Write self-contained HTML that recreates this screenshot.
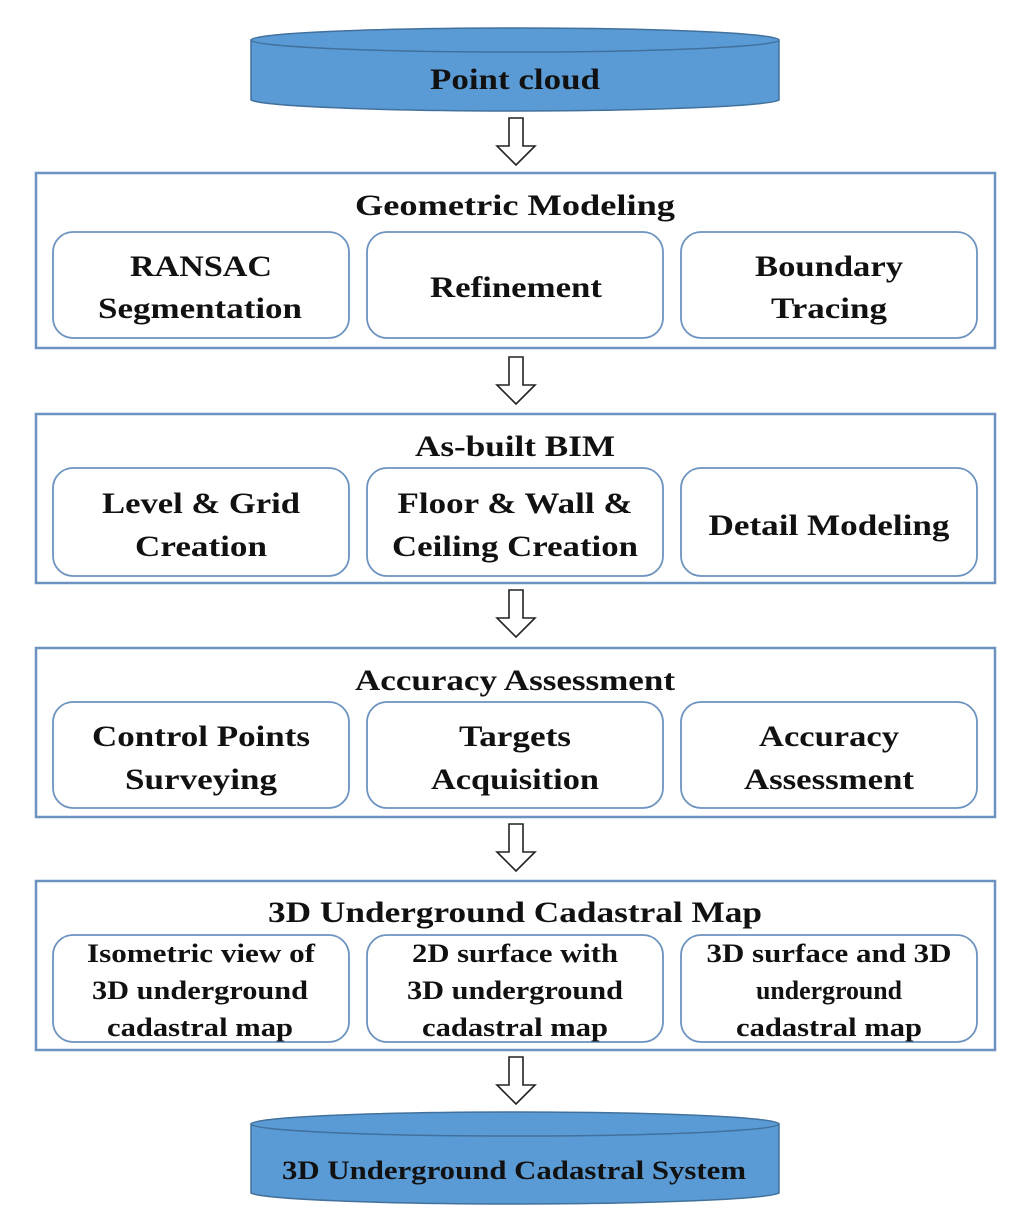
<!DOCTYPE html>
<html><head><meta charset="utf-8"><style>
html,body{margin:0;padding:0;background:#fff;}
svg{display:block;}
text{font-family:"Liberation Serif",serif;font-weight:bold;fill:#111;text-anchor:middle;}
</style></head><body>
<svg width="1024" height="1229" viewBox="0 0 1024 1229" xmlns="http://www.w3.org/2000/svg">
<defs>
<g id="arr"><path d="M-7,0 H7 V28 H19 L0,47 L-19,28 H-7 Z" fill="#fff" stroke="#222" stroke-width="1.6"/></g>
</defs>
<path d="M251,40 V100 A265,12 0 0 0 779,100 V40 Z" fill="#5b9bd5" stroke="#41719c" stroke-width="1.5"/>
<ellipse cx="515" cy="40" rx="264" ry="12" fill="#5b9bd5" stroke="#41719c" stroke-width="1.5"/>
<text x="515" y="89" font-size="30" textLength="170" lengthAdjust="spacingAndGlyphs">Point cloud</text>

<use href="#arr" x="516" y="118"/>
<use href="#arr" x="516" y="357"/>
<use href="#arr" x="516" y="590"/>
<use href="#arr" x="516" y="824"/>
<use href="#arr" x="516" y="1057"/>

<g fill="none" stroke="#6c93c0" stroke-width="2.5">
<rect x="36" y="173" width="959" height="175"/>
<rect x="36" y="414" width="959" height="169"/>
<rect x="36" y="648" width="959" height="169"/>
<rect x="36" y="881" width="959" height="169"/>
</g>
<g fill="#fff" stroke="#6c93c0" stroke-width="1.8">
<rect x="53" y="232" width="296" height="106" rx="20"/>
<rect x="367" y="232" width="296" height="106" rx="20"/>
<rect x="681" y="232" width="296" height="106" rx="20"/>
<rect x="53" y="468" width="296" height="108" rx="20"/>
<rect x="367" y="468" width="296" height="108" rx="20"/>
<rect x="681" y="468" width="296" height="108" rx="20"/>
<rect x="53" y="702" width="296" height="106" rx="20"/>
<rect x="367" y="702" width="296" height="106" rx="20"/>
<rect x="681" y="702" width="296" height="106" rx="20"/>
<rect x="53" y="935" width="296" height="107" rx="20"/>
<rect x="367" y="935" width="296" height="107" rx="20"/>
<rect x="681" y="935" width="296" height="107" rx="20"/>
</g>

<g font-size="30">
<text x="515" y="215" textLength="320" lengthAdjust="spacingAndGlyphs">Geometric  Modeling</text>
<text x="201" y="276" textLength="142" lengthAdjust="spacingAndGlyphs">RANSAC</text>
<text x="200" y="318" textLength="204" lengthAdjust="spacingAndGlyphs">Segmentation</text>
<text x="516" y="297" textLength="172" lengthAdjust="spacingAndGlyphs">Refinement</text>
<text x="829" y="276" textLength="148" lengthAdjust="spacingAndGlyphs">Boundary</text>
<text x="829" y="318" textLength="116" lengthAdjust="spacingAndGlyphs">Tracing</text>

<text x="515" y="456" textLength="200" lengthAdjust="spacingAndGlyphs">As-built BIM</text>
<text x="201" y="513" textLength="198" lengthAdjust="spacingAndGlyphs">Level &amp; Grid</text>
<text x="201" y="556" textLength="132" lengthAdjust="spacingAndGlyphs">Creation</text>
<text x="515" y="513" textLength="235" lengthAdjust="spacingAndGlyphs">Floor &amp; Wall &amp;</text>
<text x="515" y="556" textLength="246" lengthAdjust="spacingAndGlyphs">Ceiling Creation</text>
<text x="829" y="535" textLength="241" lengthAdjust="spacingAndGlyphs">Detail Modeling</text>

<text x="515" y="690" textLength="320" lengthAdjust="spacingAndGlyphs">Accuracy Assessment</text>
<text x="201" y="746" textLength="218" lengthAdjust="spacingAndGlyphs">Control Points</text>
<text x="201" y="789" textLength="152" lengthAdjust="spacingAndGlyphs">Surveying</text>
<text x="515" y="746" textLength="112" lengthAdjust="spacingAndGlyphs">Targets</text>
<text x="515" y="789" textLength="168" lengthAdjust="spacingAndGlyphs">Acquisition</text>
<text x="829" y="746" textLength="140" lengthAdjust="spacingAndGlyphs">Accuracy</text>
<text x="829" y="789" textLength="170" lengthAdjust="spacingAndGlyphs">Assessment</text>

<text x="515" y="922" textLength="494" lengthAdjust="spacingAndGlyphs">3D Underground Cadastral Map</text>
</g>
<g font-size="26">
<text x="201" y="962" textLength="228" lengthAdjust="spacingAndGlyphs">Isometric view of</text>
<text x="200" y="999" textLength="216" lengthAdjust="spacingAndGlyphs">3D underground</text>
<text x="200" y="1036" textLength="186" lengthAdjust="spacingAndGlyphs">cadastral map</text>
<text x="515" y="962" textLength="206" lengthAdjust="spacingAndGlyphs">2D surface with</text>
<text x="515" y="999" textLength="216" lengthAdjust="spacingAndGlyphs">3D underground</text>
<text x="515" y="1036" textLength="186" lengthAdjust="spacingAndGlyphs">cadastral map</text>
<text x="829" y="962" textLength="245" lengthAdjust="spacingAndGlyphs">3D surface and 3D</text>
<text x="829" y="999" textLength="146" lengthAdjust="spacingAndGlyphs">underground</text>
<text x="829" y="1036" textLength="186" lengthAdjust="spacingAndGlyphs">cadastral map</text>
</g>

<path d="M251,1124 V1193 A265,12 0 0 0 779,1193 V1124 Z" fill="#5b9bd5" stroke="#41719c" stroke-width="1.5"/>
<ellipse cx="515" cy="1124" rx="264" ry="12" fill="#5b9bd5" stroke="#41719c" stroke-width="1.5"/>
<text x="514" y="1179" font-size="26" textLength="464" lengthAdjust="spacingAndGlyphs">3D Underground  Cadastral System</text>
</svg>
</body></html>
